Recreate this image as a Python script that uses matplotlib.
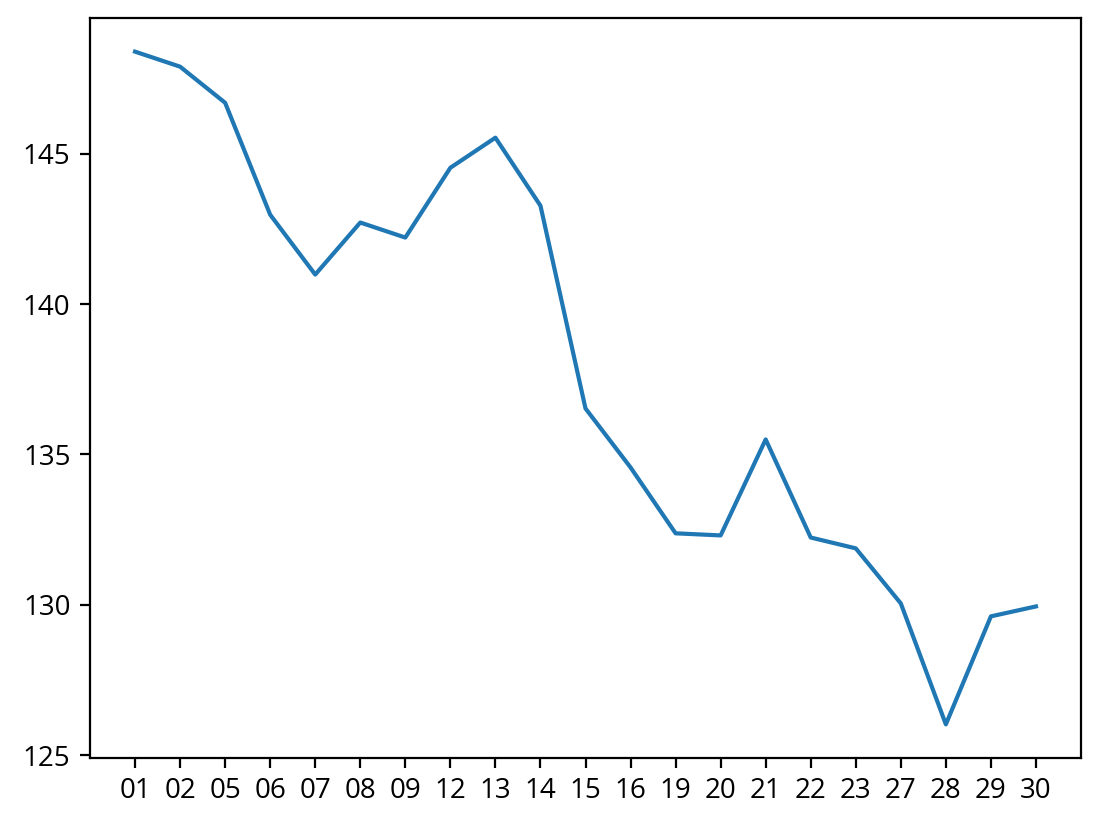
import matplotlib
matplotlib.use("Agg")
import matplotlib.pyplot as plt

plt.rcParams['font.family'] = ['Open Sans', 'DejaVu Sans']

days = ["01", "02", "05", "06", "07", "08", "09", "12", "13", "14", "15",
        "16", "19", "20", "21", "22", "23", "27", "28", "29", "30"]
values = [148.39, 147.89, 146.69, 142.97, 140.98, 142.71, 142.21, 144.53,
          145.53, 143.27, 136.53, 134.57, 132.38, 132.31, 135.50, 132.24,
          131.88, 130.05, 126.03, 129.62, 129.95]

W, H = 1102, 824
fig = plt.figure(figsize=(W / 200, H / 200), dpi=200)
ax = fig.add_axes([90 / W, 1 - 758 / H, (1081 - 90) / W, (758 - 18) / H])
ax.plot(days, values, color="#1f77b4", linewidth=1.5)
ax.set_yticks([125, 130, 135, 140, 145])
fig.savefig("out.png", dpi=200)
